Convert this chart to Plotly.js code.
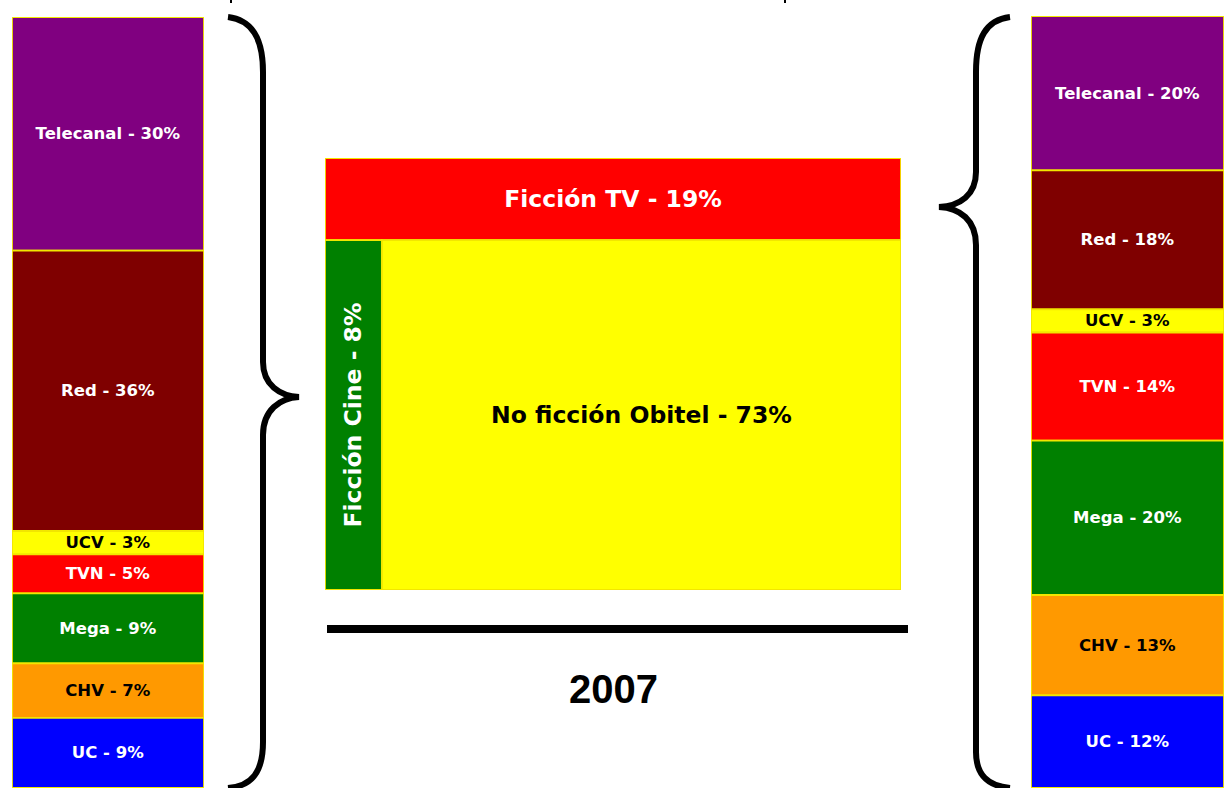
<!DOCTYPE html>
<html><head><meta charset="utf-8">
<script src="https://cdn.plot.ly/plotly-3.0.1.min.js"></script>
<style>html,body{margin:0;padding:0;background:#fff}#chart{width:1231px;height:788px}</style>
</head><body><div id="chart"></div>
<script>
// ---- data ----
const leftChannels  = ['Telecanal', 'Red', 'UCV', 'TVN', 'Mega', 'CHV', 'UC'];
const leftValues    = [30, 36, 3, 5, 9, 7, 9];
const rightChannels = ['Telecanal', 'Red', 'UCV', 'TVN', 'Mega', 'CHV', 'UC'];
const rightValues   = [20, 18, 3, 14, 20, 13, 12];
const genreLabels   = ['Ficción TV', 'Ficción Cine', 'No ficción Obitel'];
const genreValues   = [19, 8, 73];
const yearLabel     = '2007';

// ---- styles ----
const W = 1231, H = 788;
const channelColor = {Telecanal:'#800080', Red:'#7F0000', UCV:'#FFFF00', TVN:'#FF0000', Mega:'#008000', CHV:'#FF9900', UC:'#0000FF'};
const channelText  = {Telecanal:'#FFFFFF', Red:'#FFFFFF', UCV:'#000000', TVN:'#FFFFFF', Mega:'#FFFFFF', CHV:'#000000', UC:'#FFFFFF'};
const genreColor = ['#FF0000', '#008000', '#FFFF00'];
const genreText  = ['#FFFFFF', '#FFFFFF', '#000000'];
const edge = {color:'#F2E600', width:1.8};
const labelFamily = 'DejaVu Sans, Arial, sans-serif';

function stackedBar(names, vals, xa, ya) {
  const total = vals.reduce((a, b) => a + b, 0);
  let cum = 0;
  const bases = vals.map(v => { cum += v; return total - cum; });
  return {
    type: 'bar', xaxis: xa, yaxis: ya,
    x: vals.map(() => 0.5), y: vals, base: bases, width: vals.map(() => 1),
    text: names.map((n, i) => n + ' - ' + vals[i] + '%'),
    textposition: 'inside', insidetextanchor: 'middle', textangle: 0, constraintext: 'none',
    textfont: {family: labelFamily, size: 16.5, weight: 'bold', color: names.map(n => channelText[n])},
    marker: {color: names.map(n => channelColor[n]), line: edge},
    hoverinfo: 'skip', showlegend: false
  };
}

const gTotal = genreValues.reduce((a, b) => a + b, 0);
const topH = genreValues[0] / gTotal * 100;
const rest = genreValues[1] + genreValues[2];
const lowH = 100 - topH;
const wCine = genreValues[1] / rest * 100;
const wNo = genreValues[2] / rest * 100;

const traces = [
  stackedBar(leftChannels, leftValues, 'x', 'y'),
  stackedBar(rightChannels, rightValues, 'x2', 'y2'),
  { type:'bar', orientation:'h', xaxis:'x3', yaxis:'y3',
    y:[100 - topH / 2], x:[100], base:[0], width:[topH],
    text:[genreLabels[0] + ' - ' + genreValues[0] + '%'],
    textposition:'inside', insidetextanchor:'middle', textangle:0, constraintext:'none',
    textfont:{family: labelFamily, size:23.5, weight:'bold', color: genreText[0]},
    marker:{color: genreColor[0], line: edge}, hoverinfo:'skip', showlegend:false },
  { type:'bar', xaxis:'x3', yaxis:'y3',
    x:[wCine / 2], y:[lowH], base:[0], width:[wCine],
    text:[genreLabels[1] + ' - ' + genreValues[1] + '%'],
    textposition:'inside', insidetextanchor:'middle', textangle:-90, constraintext:'none',
    textfont:{family: labelFamily, size:23.5, weight:'bold', color: genreText[1]},
    marker:{color: genreColor[1], line: edge}, hoverinfo:'skip', showlegend:false },
  { type:'bar', xaxis:'x3', yaxis:'y3',
    x:[wCine + wNo / 2], y:[lowH], base:[0], width:[wNo],
    text:[genreLabels[2] + ' - ' + genreValues[2] + '%'],
    textposition:'inside', insidetextanchor:'middle', textangle:0, constraintext:'none',
    textfont:{family: labelFamily, size:23.5, weight:'bold', color: genreText[2]},
    marker:{color: genreColor[2], line: edge}, hoverinfo:'skip', showlegend:false }
];

const px = (x, y) => (x / W).toFixed(5) + ',' + (1 - y / H).toFixed(5);
const leftBrace = 'M' + px(228,17) + ' C' + px(252,20) + ' ' + px(263,38) + ' ' + px(263,72) +
  ' L' + px(263,362) + ' C' + px(263,385) + ' ' + px(280,396) + ' ' + px(299,397) +
  ' C' + px(280,398) + ' ' + px(263,410) + ' ' + px(263,435) +
  ' L' + px(263,742) + ' C' + px(263,772) + ' ' + px(252,786) + ' ' + px(228,788);
const rightBrace = 'M' + px(1010,17) + ' C' + px(986,20) + ' ' + px(976,38) + ' ' + px(976,72) +
  ' L' + px(976,172) + ' C' + px(976,195) + ' ' + px(960,206) + ' ' + px(939,207) +
  ' C' + px(960,208) + ' ' + px(976,220) + ' ' + px(976,245) +
  ' L' + px(976,752) + ' C' + px(976,775) + ' ' + px(988,786) + ' ' + px(1010,788);

const hidden = {visible:false, fixedrange:true};
const layout = {
  width: W, height: H, margin: {l:0, r:0, t:0, b:0},
  paper_bgcolor: '#FFFFFF', plot_bgcolor: 'rgba(0,0,0,0)',
  barmode: 'overlay', showlegend: false,
  xaxis:  Object.assign({domain:[12/W, 204/W], range:[0,1], anchor:'y'}, hidden),
  yaxis:  Object.assign({domain:[0, 1 - 17/H], range:[0, leftValues.reduce((a,b)=>a+b,0)], anchor:'x'}, hidden),
  xaxis2: Object.assign({domain:[1031/W, 1224/W], range:[0,1], anchor:'y2'}, hidden),
  yaxis2: Object.assign({domain:[0, 1 - 16/H], range:[0, rightValues.reduce((a,b)=>a+b,0)], anchor:'x2'}, hidden),
  xaxis3: Object.assign({domain:[325/W, 901/W], range:[0,100], anchor:'y3'}, hidden),
  yaxis3: Object.assign({domain:[1 - 590/H, 1 - 158/H], range:[0,100], anchor:'x3'}, hidden),
  shapes: [
    {type:'path', xref:'paper', yref:'paper', path:leftBrace, line:{color:'#000', width:6}},
    {type:'path', xref:'paper', yref:'paper', path:rightBrace, line:{color:'#000', width:6}},
    {type:'rect', xref:'paper', yref:'paper', x0:327/W, x1:908/W, y0:1-633/H, y1:1-625/H, fillcolor:'#000', line:{width:0}},
    {type:'line', xref:'paper', yref:'paper', x0:231/W, x1:231/W, y0:1, y1:1-3/H, line:{color:'#000', width:2}},
    {type:'line', xref:'paper', yref:'paper', x0:785/W, x1:785/W, y0:1, y1:1-3/H, line:{color:'#000', width:2}}
  ],
  annotations: [
    {xref:'paper', yref:'paper', x:613/W, y:1-689/H, text:yearLabel, showarrow:false,
     xanchor:'center', yanchor:'middle',
     font:{family:'Liberation Sans, Arial, sans-serif', size:40, weight:'bold', color:'#000'}}
  ]
};

Plotly.newPlot('chart', traces, layout, {staticPlot:true, displayModeBar:false});
</script>
</body></html>
